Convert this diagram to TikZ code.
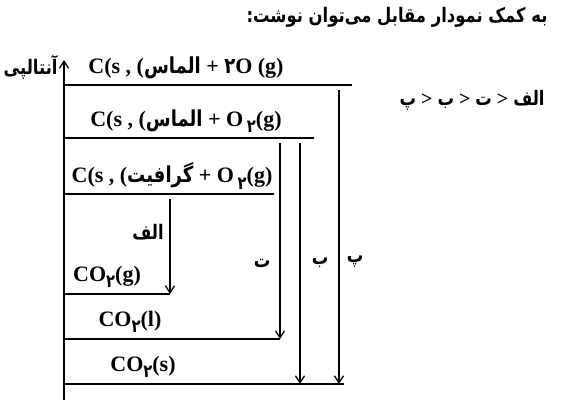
\documentclass[tikz,border=0pt]{standalone}
\usepackage{fontspec}
\setmainfont{Liberation Serif}
\newfontfamily\fa[Script=Arabic, FakeStretch=0.82]{DejaVu Sans}
\TeXXeTstate=1
\usetikzlibrary{arrows.meta}

\newcommand{\farsi}[1]{{\fa\bfseries\beginR #1\endR}}
\newcommand{\twosub}{\raisebox{-0.6ex}{\fa\bfseries\small ۲}}

\begin{document}
\begin{tikzpicture}[
    x=0.5pt, y=-0.5pt,
    level/.style={line width=0.65pt},
    axisline/.style={line width=0.65pt, -{Straight Barb[length=3.5pt, width=4.5pt]}},
    dharr/.style={line width=0.65pt, -{Straight Barb[length=3.5pt, width=4.5pt]}},
    chem/.style={font=\fontsize{11}{13}\selectfont\bfseries, inner sep=0pt},
    label/.style={font=\fontsize{10}{12}\selectfont, inner sep=0pt},
]
\useasboundingbox (0,0) rectangle (562,403);

% title and relation
\node[label, anchor=east] (title) at (548,17) {\farsi{به کمک نمودار مقابل می‌توان نوشت:}};
\node[label, anchor=east] (rel) at (545,100) {\farsi{پ} \textbf{>} \farsi{ب} \textbf{>} \farsi{ت} \textbf{>} \farsi{الف}};

% enthalpy axis
\coordinate (ax0) at (64,400);
\coordinate (ax1) at (64,60);
\draw[axisline] (ax0) -- (ax1);
\node[label, anchor=east] (hlab) at (58,67) {\farsi{آنتالپی}};

% levels
\coordinate (l1s) at (64,85);  \coordinate (l1e) at (352,85);
\coordinate (l2s) at (64,138); \coordinate (l2e) at (314,138);
\coordinate (l3s) at (64,194); \coordinate (l3e) at (274,194);
\coordinate (l4s) at (64,294); \coordinate (l4e) at (170,294);
\coordinate (l5s) at (64,339); \coordinate (l5e) at (280,339);
\coordinate (l6s) at (64,384); \coordinate (l6e) at (344,384);
\foreach \i in {1,...,6} {
    \draw[level] (l\i s) -- (l\i e);
}

\node[chem] (c1) at (186,68) {C(s , (\farsi{الماس} + {\fa\bfseries ۲}O (g)};
\node[chem] (c2) at (186,121) {C(s , (\farsi{الماس} + O\,\twosub(g)};
\node[chem] (c3) at (172,176) {C(s , (\farsi{گرافیت} + O\,\twosub(g)};
\node[chem] (c4) at (107,277) {CO\twosub(g)};
\node[chem] (c5) at (130,322) {CO\twosub(l)};
\node[chem] (c6) at (143,367) {CO\twosub(s)};

% enthalpy changes
\coordinate (alef0) at (170,199); \coordinate (alef1) at (170,294);
\coordinate (te0) at (280,143);   \coordinate (te1) at (280,339);
\coordinate (be0) at (300,143);   \coordinate (be1) at (300,384);
\coordinate (pe0) at (339,90);    \coordinate (pe1) at (339,384);
\draw[dharr] (alef0) -- (alef1);
\draw[dharr] (te0) -- (te1);
\draw[dharr] (be0) -- (be1);
\draw[dharr] (pe0) -- (pe1);

\node[label] (alab) at (148,232) {\farsi{الف}};
\node[label] (tlab) at (262,263) {\farsi{ت}};
\node[label] (blab) at (320,263) {\farsi{ب}};
\node[label] (plab) at (355,262) {\farsi{پ}};

\end{tikzpicture}
\end{document}
